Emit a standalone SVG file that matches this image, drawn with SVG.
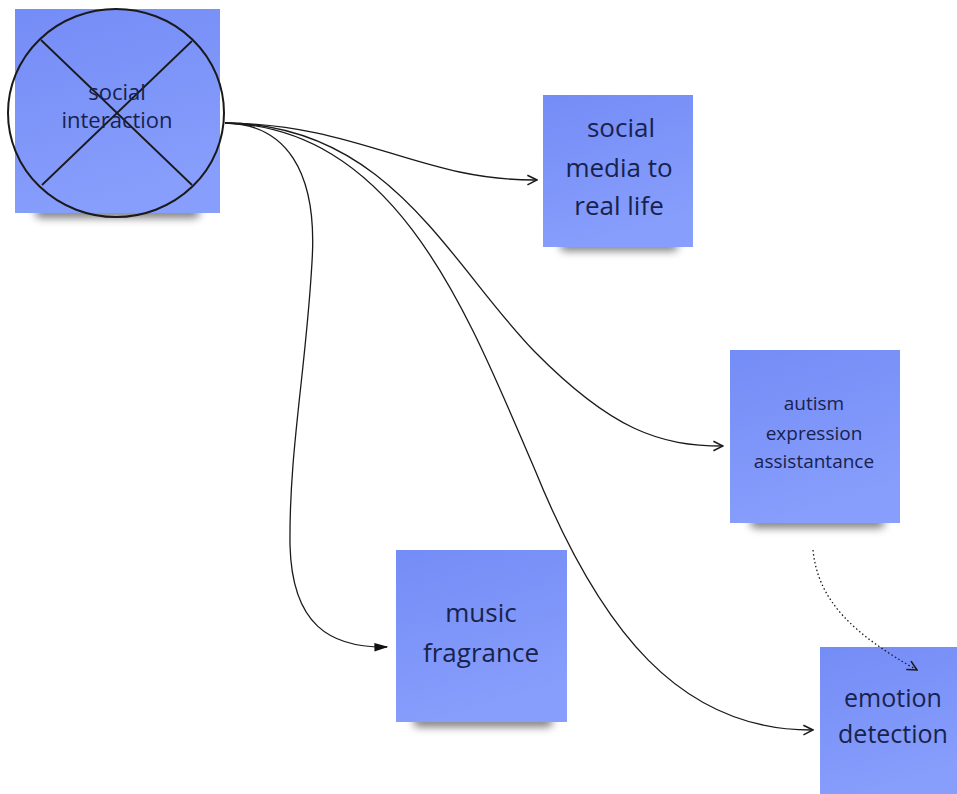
<svg xmlns="http://www.w3.org/2000/svg" width="957" height="794" viewBox="0 0 957 794">
<style>
.sticky{fill:url(#g)}
.shadow{fill:#000;opacity:0.5;filter:url(#blur)}
.t{font-family:"Open Sans","Noto Sans","Liberation Sans",sans-serif;fill:#18224c;text-anchor:middle}
.c{fill:none;stroke:#1a1a1a;stroke-width:1.3}
</style>
<defs>
<linearGradient id="g" x1="0" y1="0" x2="0.3" y2="1">
<stop offset="0" stop-color="#748cf6"/>
<stop offset="1" stop-color="#879efc"/>
</linearGradient>
<filter id="blur" x="-20%" y="-100%" width="140%" height="300%"><feGaussianBlur stdDeviation="4"/></filter>
<marker id="open" viewBox="0 0 10 10" refX="9" refY="5" markerWidth="12" markerHeight="12" markerUnits="userSpaceOnUse" orient="auto"><path d="M1,1 L9,5 L1,9" fill="none" stroke="#1a1a1a" stroke-width="1.3"/></marker>
<marker id="filled" viewBox="0 0 10 10" refX="9" refY="5" markerWidth="14" markerHeight="14" markerUnits="userSpaceOnUse" orient="auto"><path d="M0,2 L10,5 L0,8 Z" fill="#111"/></marker>
</defs>
<rect width="957" height="794" fill="#fff"/>

<g id="node-social-interaction">
<rect class="shadow" x="35" y="206" width="165" height="12" rx="6"/>
<rect class="sticky" x="15" y="9" width="205" height="204"/>
<ellipse cx="116" cy="113" rx="108" ry="104" fill="none" stroke="#1a1a1a" stroke-width="2"/>
<line x1="41" y1="40" x2="192" y2="185" stroke="#1a1a1a" stroke-width="1.8"/>
<line x1="192" y1="41" x2="42" y2="185" stroke="#1a1a1a" stroke-width="1.8"/>
<text class="t" font-size="22" x="117" y="100">social</text>
<text class="t" font-size="22" x="117" y="128">interaction</text>
</g>

<g id="node-social-media">
<rect class="shadow" x="560" y="240" width="118" height="11" rx="5"/>
<rect class="sticky" x="543" y="95" width="150" height="152"/>
<text class="t" font-size="26" x="621" y="137">social</text>
<text class="t" font-size="26" x="619" y="177">media to</text>
<text class="t" font-size="26" x="619" y="215">real life</text>
</g>

<g id="node-autism">
<rect class="shadow" x="750" y="516" width="135" height="12" rx="6"/>
<rect class="sticky" x="730" y="350" width="170" height="173"/>
<text class="t" font-size="19" x="814" y="410">autism</text>
<text class="t" font-size="19" x="814" y="440">expression</text>
<text class="t" font-size="19" x="814" y="468">assistantance</text>
</g>

<g id="node-music">
<rect class="shadow" x="413" y="715" width="140" height="12" rx="6"/>
<rect class="sticky" x="396" y="550" width="171" height="172"/>
<text class="t" font-size="26" x="481" y="622">music</text>
<text class="t" font-size="26" x="481" y="662">fragrance</text>
</g>

<g id="node-emotion">
<rect class="sticky" x="820" y="647" width="146" height="150"/>
<text class="t" font-size="25" x="893" y="707">emotion</text>
<text class="t" font-size="25" x="893" y="743">detection</text>
</g>

<g id="connectors">
<path class="c" d="M225,123 C360,124 420,181 537,180" marker-end="url(#open)"/>
<path class="c" d="M225,123 C390,124 450,265 535,352 C612,430 660,446 723,446" marker-end="url(#open)"/>
<path class="c" d="M225,123 C400,128 470,320 535,470 C600,630 680,731 813,730" marker-end="url(#open)"/>
<path class="c" d="M225,123 C285,124 318,170 312,262 C306,370 289,450 290,545 C292,625 330,648 387,647" marker-end="url(#filled)"/>
<path class="c" d="M813,550 C818,602 855,635 917,670" stroke-dasharray="1.5,2.5" marker-end="url(#open)"/>
</g>
</svg>
